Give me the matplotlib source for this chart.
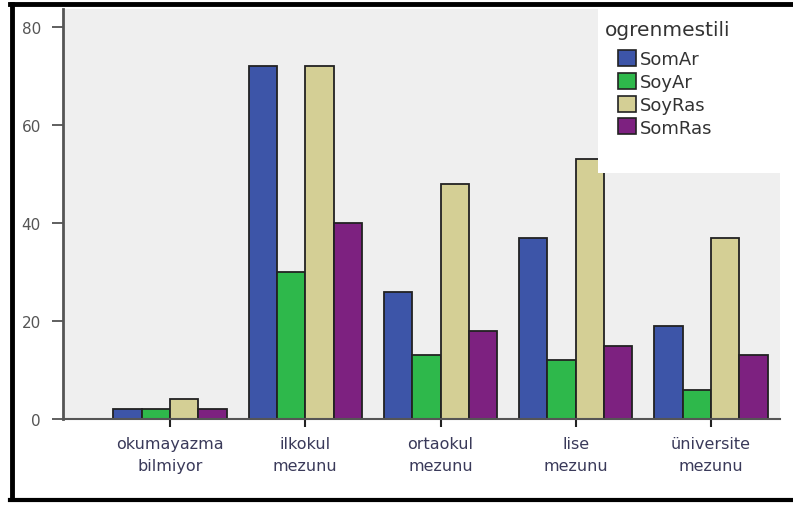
import matplotlib
matplotlib.use("Agg")
import matplotlib.pyplot as plt
import numpy as np
from matplotlib.lines import Line2D
from matplotlib.patches import Rectangle, Patch

categories = ["okumayazma\nbilmiyor", "ilkokul\nmezunu", "ortaokul\nmezunu",
              "lise\nmezunu", "üniversite\nmezunu"]
series_names = ["SomAr", "SoyAr", "SoyRas", "SomRas"]
somar = [2, 72, 26, 37, 19]
soyar = [2, 30, 13, 12, 6]
soyras = [4, 72, 48, 53, 37]
somras = [2, 40, 18, 15, 13]
y_ticks = [0, 20, 40, 60, 80]
legend_title = "ogrenmestili"

colors = ["#3d55a8", "#2eb84b", "#d4cf95", "#7d2180"]

fig = plt.figure(figsize=(7.93, 5.06), dpi=100)
ax = fig.add_axes([63 / 793, 86 / 506, 717 / 793, 410 / 506])
ax.set_facecolor("#efefef")

x = np.arange(len(categories))
width = 0.209
for i, (vals, col) in enumerate(zip([somar, soyar, soyras, somras], colors)):
    ax.bar(x + (i - 1.5) * width, vals, width, color=col, edgecolor="#222222",
           linewidth=1.3, zorder=2)

ax.set_xlim(-0.791, 4.51)
ax.set_ylim(0, 83.7)
ax.set_yticks(y_ticks)
ax.set_yticklabels([str(t) for t in y_ticks], fontsize=11, color="#555555")
ax.tick_params(axis="y", direction="out", length=8, width=1.2, color="#444444", pad=8)
ax.set_xticks(x)
ax.set_xticklabels(categories, fontsize=11.5, color="#3a3a5a", linespacing=1.6)
ax.tick_params(axis="x", direction="inout", length=12, width=1.5, color="#222222", pad=6)

for side in ["top", "right"]:
    ax.spines[side].set_visible(False)
ax.spines["left"].set_color("#555555")
ax.spines["left"].set_linewidth(2)
ax.spines["bottom"].set_color("#555555")
ax.spines["bottom"].set_linewidth(1.5)

# white legend panel in the upper right corner
ax.add_patch(Rectangle((0.746, 0.6), 0.254, 0.4, transform=ax.transAxes,
                       facecolor="white", edgecolor="none", zorder=3))
ax.text(0.756, 0.951, legend_title, transform=ax.transAxes, fontsize=14.5,
        color="#333333", va="center", ha="left", zorder=5)
handles = [Patch(facecolor=c, edgecolor="#222222", linewidth=1.2) for c in colors]
leg = ax.legend(handles, series_names, loc="upper left",
                bbox_to_anchor=(0.774, 0.90), frameon=False, fontsize=13,
                handlelength=1.0, handleheight=1.0, handletextpad=0.2,
                labelspacing=0.25, borderpad=0.0, borderaxespad=0.0)
leg.set_zorder(4)
for t in leg.get_texts():
    t.set_color("#333333")

# outer black frame
fig.add_artist(Line2D([11.5 / 793, 11.5 / 793], [1 - 5 / 506, 1 - 500 / 506],
                      transform=fig.transFigure, color="black", linewidth=3.5))
fig.add_artist(Line2D([10 / 793, 1.0], [1 - 4.5 / 506, 1 - 4.5 / 506],
                      transform=fig.transFigure, color="black", linewidth=3.5))
fig.add_artist(Line2D([10 / 793, 1.0], [1 - 501 / 506, 1 - 501 / 506],
                      transform=fig.transFigure, color="black", linewidth=3))

fig.savefig("out.png", dpi=100)
